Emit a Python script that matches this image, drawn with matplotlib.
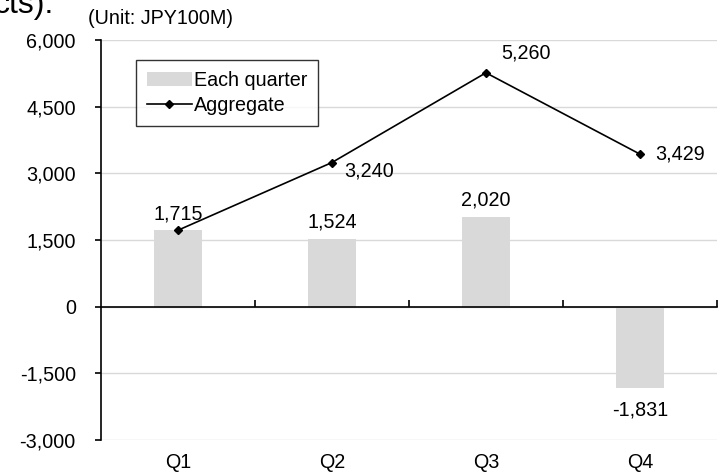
import matplotlib
matplotlib.use("Agg")
import matplotlib.pyplot as plt
from matplotlib.ticker import FuncFormatter, FixedLocator

plt.rcParams['font.family'] = ['Liberation Sans', 'DejaVu Sans']

quarters = ["Q1", "Q2", "Q3", "Q4"]
each_quarter = [1715, 1524, 2020, -1831]
aggregate = [1715, 3240, 5260, 3429]
y_ticks = [-3000, -1500, 0, 1500, 3000, 4500, 6000]

FS = 14.2

fig = plt.figure(figsize=(7.25, 4.75), dpi=100)
ax = fig.add_axes([0.139, 0.074, 0.85, 0.842])

x = list(range(len(quarters)))
bars = ax.bar(x, each_quarter, width=0.31, color="#d9d9d9", zorder=2, label="Each quarter")
line, = ax.plot(x, aggregate, color="black", lw=1.2, marker="D", markersize=4,
                zorder=3, label="Aggregate")

ax.set_xlim(-0.5, len(quarters) - 0.5)
ax.set_ylim(-3000, 6000)
ax.yaxis.set_major_locator(FixedLocator(y_ticks))
ax.yaxis.set_major_formatter(FuncFormatter(lambda v, p: f"{int(v):,}"))
ax.grid(axis="y", color="#d9d9d9", lw=1, zorder=0)

for s in ["top", "right"]:
    ax.spines[s].set_visible(False)
ax.spines["bottom"].set_position(("data", 0))
ax.spines["left"].set_linewidth(1.2)
ax.spines["bottom"].set_linewidth(1.2)

# category boundary ticks on the zero line, pointing up
ax.set_xticks([i + 0.5 for i in x])
ax.tick_params(axis="x", direction="in", length=5, width=1.2, labelbottom=False)
ax.tick_params(axis="y", direction="out", length=4, width=1.2, labelsize=FS, pad=14)

for i, q in enumerate(quarters):
    ax.text(i, -3300, q, ha="center", va="top", fontsize=FS)

# bar value labels
for i, v in enumerate(each_quarter):
    if v >= 0:
        ax.annotate(f"{v:,}", (i, v), xytext=(0, 5), textcoords="offset points",
                    ha="center", va="bottom", fontsize=FS)
    else:
        ax.annotate(f"{v:,}", (i, v), xytext=(0, -9), textcoords="offset points",
                    ha="center", va="top", fontsize=FS)

# aggregate labels (Q1 shares the bar label)
offsets = {1: (9, -6), 2: (11, 14), 3: (11, 0)}
for i, (dx, dy) in offsets.items():
    ax.annotate(f"{aggregate[i]:,}", (i, aggregate[i]), xytext=(dx, dy),
                textcoords="offset points", ha="left", va="center", fontsize=FS)

leg = ax.legend([bars, line], ["Each quarter", "Aggregate"],
                loc="upper left", bbox_to_anchor=(0.057, 0.95), fontsize=FS,
                frameon=True, fancybox=False, edgecolor="black",
                handlelength=2.3, handletextpad=0.1, borderpad=0.55,
                labelspacing=0.3, borderaxespad=0)
leg.get_frame().set_linewidth(1.0)

fig.text(88 / 725, 1 - 24 / 475, "(Unit: JPY100M)", ha="left", va="baseline", fontsize=FS)
fig.text(54 / 725, 1 - 13 / 475, "cts):", ha="right", va="baseline", fontsize=23)

fig.savefig("out.png", dpi=100)
